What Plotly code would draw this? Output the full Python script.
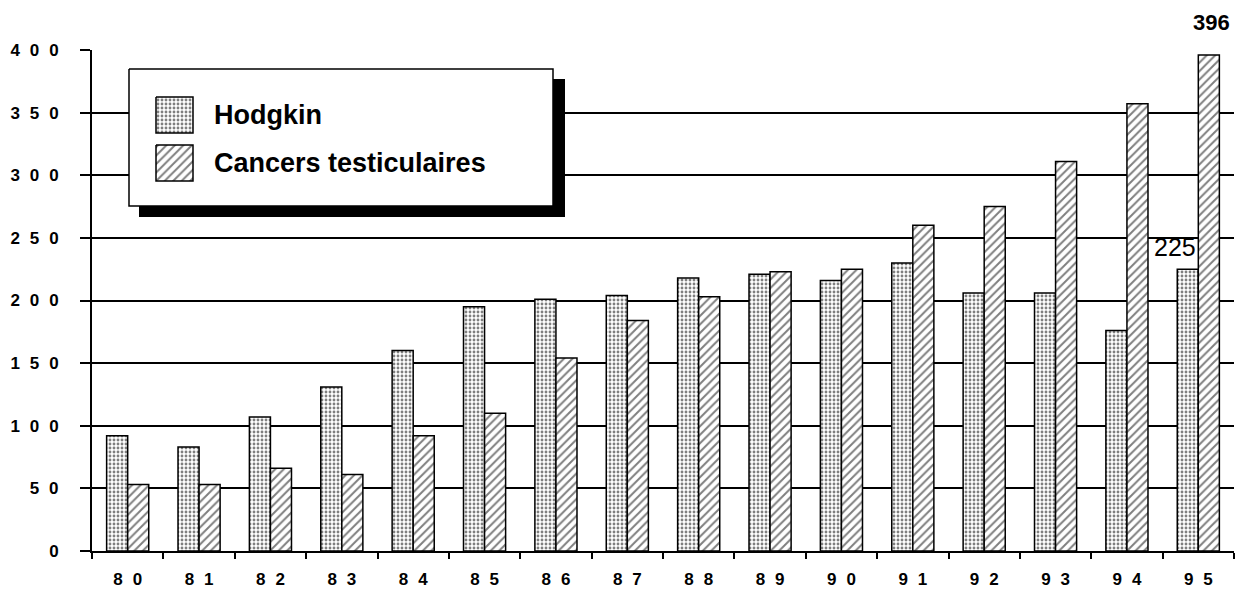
import plotly.graph_objects as go

# ---- data ----
years = ["80", "81", "82", "83", "84", "85", "86", "87", "88", "89", "90", "91", "92", "93", "94", "95"]
hodgkin = [92, 83, 107, 131, 160, 195, 201, 204, 218, 221, 216, 230, 206, 206, 176, 225]
cancers = [53, 53, 66, 61, 92, 110, 154, 184, 203, 223, 225, 260, 275, 311, 357, 396]
y_ticks = [0, 50, 100, 150, 200, 250, 300, 350, 400]
series_names = ["Hodgkin", "Cancers testiculaires"]

SP = "\u2002\u200A"
x_labels = [SP.join(list(y)) for y in years]
y_labels = [SP.join(list(str(v))) for v in y_ticks]

FONT = "Liberation Sans, Arial, sans-serif"
NARROW = "Liberation Sans Narrow, Arial Narrow, Liberation Sans, Arial, sans-serif"

DOTS = dict(shape=".", size=4, solidity=0.4, fgcolor="black", bgcolor="white", fillmode="overlay")
HATCH = dict(shape="/", size=6, solidity=0.33, fgcolor="black", bgcolor="white", fillmode="overlay")

# page body has an 8px default margin; the figure is sized/offset to compensate
PAGE = 8

fig = go.Figure()
fig.add_trace(go.Bar(
    x=x_labels, y=hodgkin, name=series_names[0],
    marker=dict(color="white", line=dict(color="black", width=1.5), pattern=DOTS),
))
fig.add_trace(go.Bar(
    x=x_labels, y=cancers, name=series_names[1],
    marker=dict(color="white", line=dict(color="black", width=1.5), pattern=HATCH),
))

# ---- custom legend on an overlay axis measured in page pixels ----
X0, X1, Y0, Y1 = 92, 1234, 50, 551  # plot area in page pixels

def rect(x0, y0, x1, y1):
    return [x0, x1, x1, x0, x0], [y0, y0, y1, y1, y0]

sx, sy = rect(139, 79, 565, 217)
fig.add_trace(go.Scatter(x=sx, y=sy, xaxis="x2", yaxis="y2", mode="lines", fill="toself",
                         fillcolor="black", line=dict(color="black", width=0), hoverinfo="skip", showlegend=False))
bx, by = rect(129, 69, 553, 206)
fig.add_trace(go.Scatter(x=bx, y=by, xaxis="x2", yaxis="y2", mode="lines", fill="toself",
                         fillcolor="white", line=dict(color="black", width=1.5), hoverinfo="skip", showlegend=False))
swatches = [(97, 133, DOTS), (145, 181, HATCH)]
for (t, b, pat), name in zip(swatches, series_names):
    wx, wy = rect(156, t, 193, b)
    fig.add_trace(go.Scatter(x=wx, y=wy, xaxis="x2", yaxis="y2", mode="lines", fill="toself",
                             fillcolor="white", fillpattern=pat,
                             line=dict(color="black", width=1.5), hoverinfo="skip", showlegend=False))
    fig.add_annotation(x=212, y=(t + b) / 2, xref="x2", yref="y2", text="<b>%s</b>" % name,
                       showarrow=False, xanchor="left", yanchor="middle",
                       font=dict(family=FONT, size=27, color="black"))

# value labels
fig.add_annotation(x=x_labels[-1], y=cancers[-1], text="<b>%d</b>" % cancers[-1], showarrow=False,
                   xshift=13, yshift=33, font=dict(family=NARROW, size=22, color="black"))
fig.add_annotation(x=x_labels[-1], y=hodgkin[-1], text="%d" % hodgkin[-1], showarrow=False,
                   xshift=-23, yshift=22, font=dict(family=NARROW, size=25, color="black"))

fig.update_layout(
    width=1244 - PAGE, height=590 - PAGE, autosize=False,
    margin=dict(l=92 - PAGE, r=1244 - X1, t=50 - PAGE, b=590 - Y1, pad=0),
    paper_bgcolor="white", plot_bgcolor="white",
    showlegend=False,
    barmode="group", bargap=0.41, bargroupgap=0,
    font=dict(family=FONT, color="black"),
    xaxis=dict(type="category", showgrid=False, showline=True, linecolor="black", linewidth=2,
               ticks="outside", ticklen=6, tickwidth=2, tickcolor="black", tickson="boundaries",
               tickfont=dict(family=FONT, size=17, color="black", weight="bold"),
               ticklabelstandoff=12, zeroline=False, fixedrange=True, automargin=False),
    yaxis=dict(range=[0, 400], tickmode="array", tickvals=y_ticks, ticktext=y_labels,
               showgrid=True, gridcolor="black", gridwidth=1.5,
               showline=True, linecolor="black", linewidth=2, zeroline=False,
               ticks="outside", ticklen=10, tickwidth=1.5, tickcolor="black",
               tickfont=dict(family=FONT, size=17, color="black", weight="bold"),
               ticklabelstandoff=18, fixedrange=True, automargin=False),
    xaxis2=dict(overlaying="x", range=[X0, X1], visible=False, fixedrange=True, automargin=False),
    yaxis2=dict(overlaying="y", range=[Y1, Y0], visible=False, fixedrange=True, automargin=False),
)

fig.write_html("out.html")
